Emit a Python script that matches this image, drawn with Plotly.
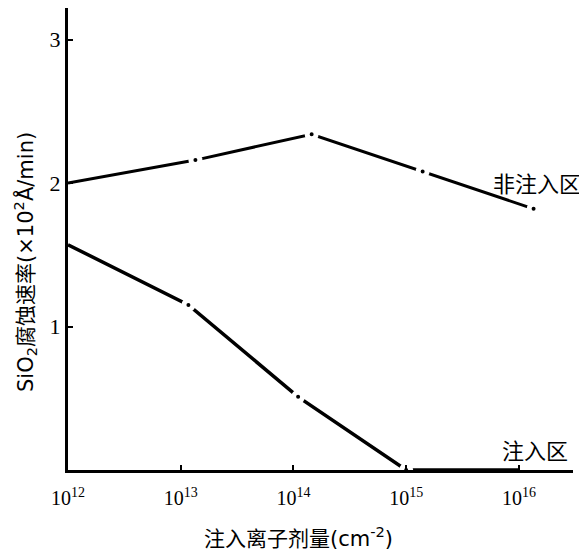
import plotly.graph_objects as go

# Data
dose_upper = [1e12, 1.35e13, 1.45e14, 1.4e15, 1.35e16]
rate_upper = [2.0, 2.16, 2.34, 2.08, 1.82]

dose_lower = [1e12, 1.17e13, 1.1e14, 1e15, 1e16]
rate_lower = [1.57, 1.15, 0.51, 0.0, 0.0]

x_tickvals = [1e12, 1e13, 1e14, 1e15, 1e16]
x_ticktext = ["10<sup>12</sup>", "10<sup>13</sup>", "10<sup>14</sup>", "10<sup>15</sup>", "10<sup>16</sup>"]
y_tickvals = [1, 2, 3]
y_ticktext = ["1", "2", "3"]

label_upper = "非注入区"
label_lower = "注入区"
x_title = "注入离子剂量(cm<sup>-2</sup>)"
y_title = "SiO<sub>2</sub>腐蚀速率(×10<sup>2</sup>Å/min)"

serif = "Liberation Serif"
cjk = "Noto Sans CJK SC"
mixed = "DejaVu Sans, Noto Sans CJK SC"

fig = go.Figure()

# upper series line
fig.add_trace(go.Scatter(
    x=dose_upper, y=rate_upper, mode="lines",
    line=dict(color="black", width=3), showlegend=False, cliponaxis=False))
# lower series line
fig.add_trace(go.Scatter(
    x=dose_lower, y=rate_lower, mode="lines",
    line=dict(color="black", width=3.5), showlegend=False, cliponaxis=False))
# point markers with white ring (gap in the line)
fig.add_trace(go.Scatter(
    x=dose_upper, y=rate_upper, mode="markers",
    marker=dict(color="black", size=9, line=dict(color="white", width=5)),
    showlegend=False, cliponaxis=False))
fig.add_trace(go.Scatter(
    x=dose_lower[:4], y=rate_lower[:4], mode="markers",
    marker=dict(color="black", size=9, line=dict(color="white", width=5)),
    showlegend=False, cliponaxis=False))

fig.add_annotation(x=1.02, xref="paper", xanchor="right", y=2.01, yref="y",
                   yanchor="middle", text=label_upper, showarrow=False,
                   font=dict(family=cjk, size=22, color="black"))
fig.add_annotation(x=0.994, xref="paper", xanchor="right", y=0, yref="y",
                   yshift=3, yanchor="bottom", text=label_lower, showarrow=False,
                   font=dict(family=cjk, size=22, color="black"))
fig.add_annotation(x=0.457, xref="paper", y=-0.11, yref="paper", yanchor="top",
                   text=x_title, showarrow=False,
                   font=dict(family=mixed, size=21, color="black"))
fig.add_annotation(x=-0.085, xref="paper", xanchor="center", y=1.45, yref="y",
                   text=y_title, textangle=-90, showarrow=False,
                   font=dict(family=mixed, size=21, color="black"))

fig.update_layout(
    width=587, height=554,
    margin=dict(l=60, r=22, t=0, b=92, autoexpand=False),
    paper_bgcolor="white", plot_bgcolor="white",
    showlegend=False,
)
fig.update_xaxes(
    type="log", range=[12, 16.48],
    tickvals=x_tickvals, ticktext=x_ticktext,
    showgrid=False, zeroline=False,
    showline=True, linecolor="black", linewidth=3,
    ticks="inside", ticklen=5, tickwidth=2, tickcolor="black",
    tickfont=dict(family=serif, size=20, color="black"),
    ticklabelstandoff=8,
    layer="above traces",
)
fig.update_yaxes(
    range=[0, 3.22],
    tickvals=y_tickvals, ticktext=y_ticktext,
    showgrid=False, zeroline=False,
    showline=True, linecolor="black", linewidth=3,
    ticks="inside", ticklen=5, tickwidth=2, tickcolor="black",
    tickfont=dict(family=serif, size=22, color="black"),
    layer="above traces",
)

fig.write_html("out.html")
